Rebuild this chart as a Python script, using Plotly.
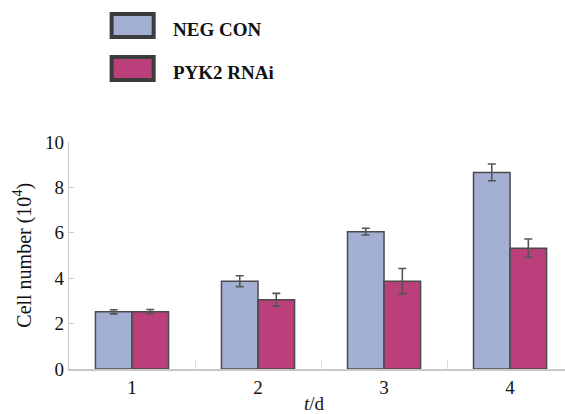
import plotly.graph_objects as go

days = ["1", "2", "3", "4"]
neg_con = [2.52, 3.87, 6.05, 8.66]
neg_con_err = [0.09, 0.24, 0.15, 0.37]
pyk2_rnai = [2.52, 3.05, 3.87, 5.32]
pyk2_rnai_err = [0.10, 0.28, 0.56, 0.41]
series_names = ["NEG CON", "PYK2 RNAi"]
y_ticks = [0, 2, 4, 6, 8, 10]

W, H = 565, 414
L, T, B = 69.4, 141.7, 45
PW = W - L
PH = H - T - B

def px_x(x):
    return (x - L) / PW

def px_y(y):
    return (H - B - y) / PH

FONT = "Liberation Serif, Times New Roman, DejaVu Serif, serif"
C1 = "#a3b0d4"
C2 = "#bb3f7a"
EDGE = "#4a4a4a"
TXT = "#111111"

fig = go.Figure()
for name, vals, errs, col in [(series_names[0], neg_con, neg_con_err, C1),
                              (series_names[1], pyk2_rnai, pyk2_rnai_err, C2)]:
    fig.add_trace(go.Bar(
        x=days, y=vals, name=name,
        marker=dict(color=col, line=dict(color=EDGE, width=1.5)),
        error_y=dict(type="data", array=errs, visible=True,
                     color="#555555", thickness=1.6, width=4),
        showlegend=False,
    ))

fig.update_layout(
    width=W, height=H,
    margin=dict(l=L, r=0, t=T, b=B, pad=0),
    paper_bgcolor="white", plot_bgcolor="white",
    barmode="group", bargap=0.42, bargroupgap=0,
    font=dict(family=FONT, size=18, color=TXT),
    xaxis=dict(
        type="category", range=[-0.5, 3.436],
        showline=True, linecolor="#c8c8c8", linewidth=1.5,
        ticks="inside", tickson="boundaries", ticklen=9, tickcolor="#dddddd",
        tickfont=dict(family=FONT, size=19, color=TXT),
        showgrid=False, zeroline=False,
    ),
    yaxis=dict(
        range=[0, 10], tickvals=y_ticks,
        showline=True, linecolor="#c8c8c8", linewidth=1.2,
        ticks="inside", ticklen=5, tickcolor="#cccccc",
        tickfont=dict(family=FONT, size=19, color=TXT),
        showgrid=False, zeroline=False,
    ),
)

# axis titles
fig.add_annotation(text="Cell number (10<sup>4</sup>)", xref="paper", yref="paper",
                   x=px_x(23), y=px_y(255), textangle=-90, showarrow=False,
                   font=dict(family=FONT, size=20, color=TXT),
                   xanchor="center", yanchor="middle")
fig.add_annotation(text="<i>t</i>/d", xref="paper", yref="paper",
                   x=px_x(315), y=px_y(404), showarrow=False,
                   font=dict(family=FONT, size=19, color=TXT),
                   xanchor="center", yanchor="middle")

# legend (drawn)
for i, (name, col) in enumerate(zip(series_names, [C1, C2])):
    y0 = 13.5 + i * 43
    y1 = y0 + 23
    fig.add_shape(type="rect", xref="paper", yref="paper",
                  x0=px_x(112), x1=px_x(154), y0=px_y(y0), y1=px_y(y1),
                  fillcolor=col, line=dict(color="#3c3c3c", width=4))
    fig.add_annotation(text="<b>" + name + "</b>", xref="paper", yref="paper",
                       x=px_x(171), y=px_y((y0 + y1) / 2 + 4), showarrow=False,
                       xanchor="left", yanchor="middle",
                       font=dict(family=FONT, size=19, color=TXT))

fig.write_html("out.html", config={"displayModeBar": False},
               post_script="document.body.style.margin='0';document.body.style.overflow='hidden';")
